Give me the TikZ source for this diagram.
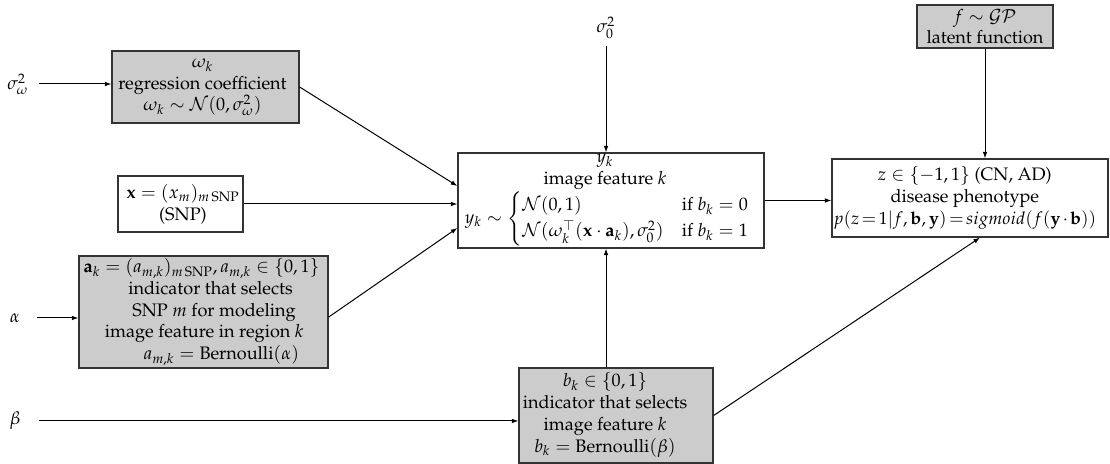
\documentclass[tikz,border=0pt]{standalone}
\usepackage{amsmath}
\usepackage{graphicx}
\usepackage[T1]{fontenc}
\usepackage{mathpazo}
\usetikzlibrary{arrows.meta}
\newsavebox\casesbox
\begin{document}
\sbox\casesbox{$y_k\sim\begin{cases}\mathcal{N}(0,1) & \text{if } b_k=0\\ \mathcal{N}(\omega_k^{\top}(\mathbf{x}\cdot\mathbf{a}_k),\sigma_0^2) & \text{if } b_k=1\end{cases}$}
\begin{tikzpicture}[x=0.5525pt,y=-0.5525pt,
  box/.style={draw=black!80, line width=0.7pt, rectangle, inner sep=0pt},
  gbox/.style={box, fill=black!20},
  wbox/.style={box, fill=white},
  txt/.style={align=center, inner sep=0pt},
  lbl/.style={inner sep=0pt},
  arr/.style={-{Latex[length=3.6pt,width=2.6pt]}, line width=0.55pt}]
\useasboundingbox (0,0) rectangle (1110,464);

% boxes
\node[gbox, minimum width=103.3pt, minimum height=39.8pt] (wbox) at (205.5,87) {};
\node[wbox, minimum width=69.1pt, minimum height=30.9pt] (xbox) at (180.5,204) {};
\node[gbox, minimum width=137.6pt, minimum height=61.9pt] (abox) at (203.5,312) {};
\node[gbox, minimum width=107.2pt, minimum height=52.5pt] (bbox) at (616,415.5) {};
\node[wbox, minimum width=169.1pt, minimum height=52.5pt] (ybox) at (611,200.5) {};
\node[wbox, minimum width=152.5pt, minimum height=43.1pt] (zbox) at (970,198) {};
\node[gbox, minimum width=75.1pt, minimum height=23.8pt] (fbox) at (985,26.5) {};

% texts
\node[txt, anchor=west] (wt) at (118,87) {$\omega_k$\\ regression coefficient\\ $\omega_k\sim\mathcal{N}(0,\sigma_\omega^2)$};
\node[txt, anchor=west] (xt) at (126,204) {$\mathbf{x}=(x_m)_{m\,\mathrm{SNP}}$\\ (SNP)};
\node[txt, anchor=west] (at) at (83,312) {$\mathbf{a}_k=(a_{m,k})_{m\,\mathrm{SNP}}, a_{m,k}\in\{0,1\}$\\ \hspace*{10pt}indicator that selects\\ \hspace*{14pt}SNP $m$ for modeling\\ \hspace*{3pt}image feature in region $k$\\ \hspace*{22pt}$a_{m,k}=\mathrm{Bernoulli}(\alpha)$};
\node[txt] (bt) at (605,415) {$b_k\in\{0,1\}$\\ indicator that selects\\ image feature $k$\\ $b_k=\mathrm{Bernoulli}(\beta)$};
\node[txt] (yt) at (605,200) {$y_k$\\ image feature $k$\\ \makebox[154.7pt][l]{\usebox\casesbox}};
\node[txt, anchor=west] (zt) at (833,198) {$z\in\{-1,1\}$ (CN, AD)\\ disease phenotype\\ \scalebox{0.97}{$\thickmuskip=2.5mu\medmuskip=2mu p(z=1|f,\mathbf{b},\mathbf{y})=sigmoid(f(\mathbf{y}\cdot\mathbf{b}))$}};
\node[txt] (ft) at (985,26.5) {$f\sim\mathcal{GP}$\\ latent function};

% free labels
\node[lbl] (sw) at (18,84) {$\sigma_\omega^2$};
\node[lbl] (al) at (15,318) {$\alpha$};
\node[lbl] (be) at (15,421) {$\beta$};
\node[lbl] (s0) at (606,28) {$\sigma_0^2$};

% connectors
\draw[arr] ([xshift=5.5pt]sw.east) -- (sw.east -| wbox.west);
\draw[arr] ([xshift=9.4pt]al.east) -- (al.east -| abox.west);
\draw[arr] ([xshift=10pt]be.east) -- (be.east -| bbox.west);
\draw[arr] ([yshift=-3.9pt]s0.south) -- (s0.south |- ybox.north);
\draw[arr] (wbox.east) -- ([yshift=8pt]ybox.west);
\draw[arr] (xbox.east) -- (xbox.east -| ybox.west);
\draw[arr] ([yshift=-2.8pt]abox.east) -- ([yshift=-15.2pt]ybox.west);
\draw[arr] (s0.south |- bbox.north) -- (s0.south |- ybox.south);
\draw[arr] (ybox.east) -- (ybox.east -| zbox.west);
\draw[arr] (fbox.south) -- (fbox.south |- zbox.north);
\draw[arr] (bbox.east) -- ([xshift=5.5pt]zbox.south);
\end{tikzpicture}
\end{document}
